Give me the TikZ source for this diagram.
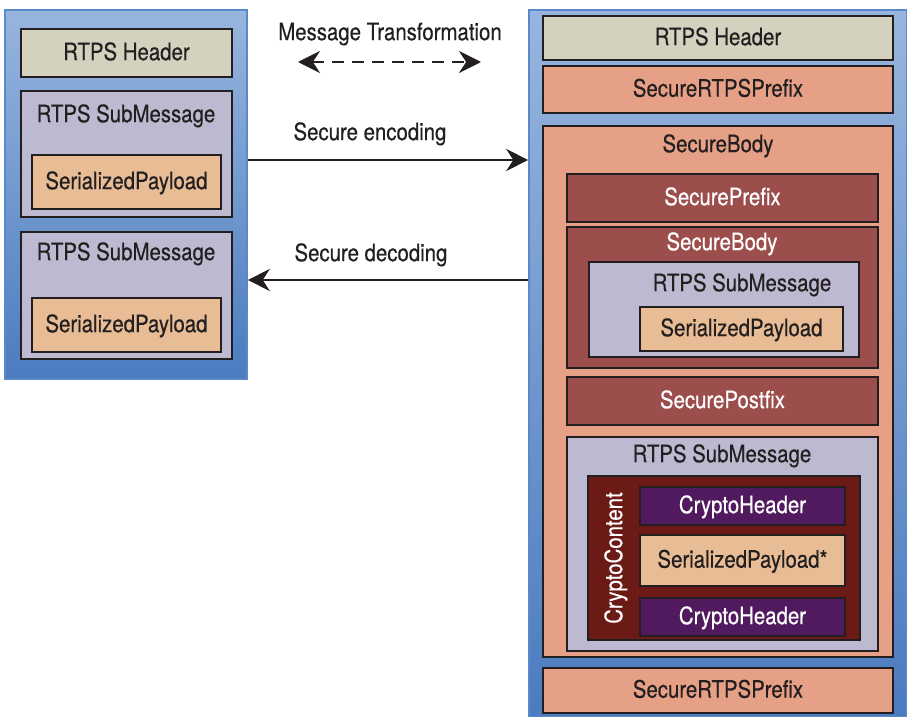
\documentclass[tikz,border=0pt]{standalone}
\usepackage{fontspec}
\setmainfont[FakeStretch=0.85, FakeBold=0.4]{TeX Gyre Heros}
\usetikzlibrary{positioning,arrows.meta,fit,calc}

\definecolor{txtdark}{HTML}{231F20}
\definecolor{boxline}{HTML}{231F20}
\definecolor{hdrfill}{HTML}{D4D1BE}
\definecolor{subfill}{HTML}{BDB9D0}
\definecolor{payfill}{HTML}{E8BD96}
\definecolor{secfill}{HTML}{E6A086}
\definecolor{secdark}{HTML}{9B4E4C}
\definecolor{crycont}{HTML}{6B1A15}
\definecolor{cryhead}{HTML}{521A5E}
\definecolor{panellight}{HTML}{97B5DE}
\definecolor{paneldark}{HTML}{4B7CC0}
\definecolor{panelline}{HTML}{5A88C8}

\begin{document}
\begin{tikzpicture}[
  x=0.5pt, y=-0.5pt,
  font=\fontsize{12}{14}\selectfont,
  >={Stealth[length=11pt, width=11pt]},
  boxtext/.style={inner sep=0pt, text height=0.72em, text depth=0pt, text=txtdark},
  tx/.style={label={[boxtext]center:#1}},
  txw/.style={label={[boxtext, text=white]center:#1}},
  bx/.style={draw=boxline, line width=1.4pt, inner sep=0pt},
  hdr/.style={bx, fill=hdrfill},
  sub/.style={bx, fill=subfill},
  pay/.style={bx, fill=payfill},
  sec/.style={bx, fill=secfill},
  secd/.style={bx, fill=secdark},
  cryc/.style={bx, fill=crycont},
  cryh/.style={bx, fill=cryhead},
  panel/.style={draw=panelline, line width=0.8pt, inner sep=0pt,
                top color=panellight, bottom color=paneldark},
  ttl/.style={boxtext},
  flow/.style={->, line width=1.2pt, draw=txtdark},
  lbl/.style={boxtext},
]
\useasboundingbox (0,0) rectangle (907,717);

% ---- left: plain RTPS message ----
\node[panel, fit={(5,10)(247,379)}] (lpanel) {};
\node[hdr, tx={RTPS Header}, fit={(21,29)(232,77)}] (lhdr) {};
\node[sub, fit={(21,91)(232,217)}] (lsub1) {};
\node[ttl] (lsub1t) at (126,115) {RTPS SubMessage};
\node[pay, tx={SerializedPayload}, fit={(32,155)(221,209)}] (lpay1) {};
\node[sub, fit={(21,232)(232,359)}] (lsub2) {};
\node[ttl] (lsub2t) at (126,253) {RTPS SubMessage};
\node[pay, tx={SerializedPayload}, fit={(32,298)(221,352)}] (lpay2) {};

% ---- right: secured RTPS message ----
\node[panel, fit={(529,10)(907,717)}] (rpanel) {};
\node[hdr, tx={RTPS Header}, fit={(543,16)(893,60)}] (rhdr) {};
\node[sec, tx={SecureRTPSPrefix}, fit={(543,66)(893,113)}] (rpre) {};
\node[sec, fit={(543,126)(893,657)}] (rbody) {};
\node[ttl] (rbodyt) at (718,145) {SecureBody};
\node[secd, txw={SecurePrefix}, fit={(567,174)(878,222)}] (spre) {};
\node[secd, fit={(567,227)(878,368)}] (sbody) {};
\node[ttl, text=white] (sbodyt) at (722,243) {SecureBody};
\node[sub, fit={(589,262)(859,357)}] (ssub) {};
\node[ttl] (ssubt) at (742,284) {RTPS SubMessage};
\node[pay, tx={SerializedPayload}, fit={(640,307)(843,351)}] (spay) {};
\node[secd, txw={SecurePostfix}, fit={(567,377)(878,425)}] (spost) {};

% ---- submessage with crypto content ----
\node[sub, fit={(567,437)(878,651)}] (csub) {};
\node[ttl] (csubt) at (722,455) {RTPS SubMessage};
\node[cryc, fit={(588,476)(860,640)}] (ccont) {};
\node[ttl, text=white, rotate=90] (cconttt) at (615,558) {CryptoContent};
\node[cryh, txw={CryptoHeader}, fit={(640,487)(845,525)}] (chdr1) {};
\node[pay, tx={SerializedPayload*}, fit={(640,535)(845,586)}] (cpay) {};
\node[cryh, txw={CryptoHeader}, fit={(640,598)(845,636)}] (chdr2) {};

\node[sec, tx={SecureRTPSPrefix}, fit={(543,668)(893,713)}] (rpost) {};

% ---- transformations ----
\node[lbl] (mt) at (390,33) {Message Transformation};
\coordinate (mtl) at (298,62);
\coordinate (mtr) at (481,62);
\draw[flow, <->, dash pattern=on 6pt off 4pt] (mtl) -- (mtr);

\node[lbl] (enc) at (370,133) {Secure encoding};
\draw[flow] (lpanel.east |- 0,160) -- (rpanel.west |- 0,160);

\node[lbl] (dec) at (371,254) {Secure decoding};
\draw[flow] (rpanel.west |- 0,280) -- (lpanel.east |- 0,280);
\end{tikzpicture}
\end{document}
